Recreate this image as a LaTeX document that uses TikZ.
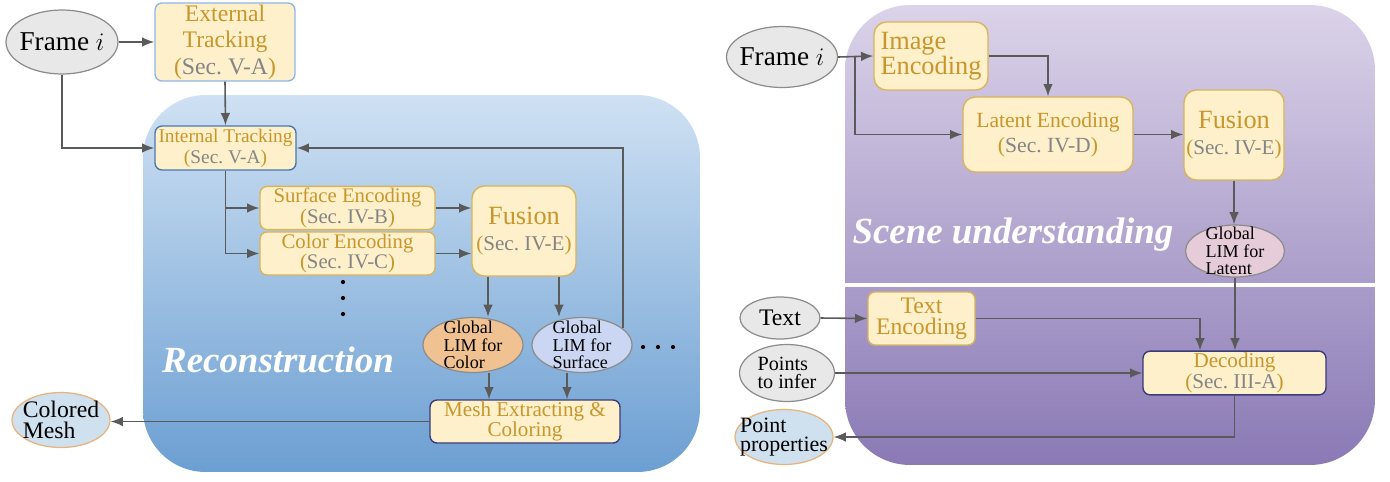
\documentclass[tikz,border=0pt]{standalone}
\usepackage{fontspec}
\setmainfont{Liberation Serif}
\usetikzlibrary{arrows.meta, positioning, backgrounds, shapes.geometric}

\definecolor{boxfill}{HTML}{FDF0CB}
\definecolor{goldline}{HTML}{D8B45E}
\definecolor{goldtext}{HTML}{C8962C}
\definecolor{secgray}{HTML}{858585}
\definecolor{ellfill}{HTML}{E8E8E8}
\definecolor{ellline}{HTML}{8C8C8C}
\definecolor{outfill}{HTML}{CFE0EF}
\definecolor{outline}{HTML}{E8B37A}
\definecolor{arrgray}{HTML}{5A5A5A}
\definecolor{extline}{HTML}{8EB6E8}
\definecolor{intline}{HTML}{4A78AC}
\definecolor{navyline}{HTML}{3C3C78}
\definecolor{limcolor}{HTML}{F0C292}
\definecolor{limsurf}{HTML}{CBD7F2}
\definecolor{limlatent}{HTML}{E6CCD9}
\definecolor{bluetop}{HTML}{CFE1F3}
\definecolor{bluebot}{HTML}{6C9FD2}
\definecolor{purptop}{HTML}{DBD3E9}
\definecolor{purpbot}{HTML}{8A79B5}

\newcommand{\secno}[1]{(\textcolor{secgray}{Sec.~#1})}
\newcommand{\fs}[2]{\fontsize{#1}{#2}\selectfont}

\begin{document}
\begin{tikzpicture}[
  x=0.02cm, y=-0.02cm,
  every node/.style={align=center},
  %% ─── styles ─────────────────────────────────────────────
  block/.style={
    draw=goldline, fill=boxfill, rounded corners=4pt, text=goldtext,
    line width=0.8pt, inner sep=1pt
  },
  bigblock/.style={block, rounded corners=7pt},
  inell/.style={ellipse, draw=ellline, fill=ellfill, line width=0.7pt, inner sep=0pt},
  outell/.style={ellipse, draw=outline, fill=outfill, line width=0.7pt, inner sep=0pt},
  lim/.style={ellipse, draw=ellline, line width=0.7pt, inner sep=0pt},
  lbl/.style={align=left, inner sep=0pt, text=black},
  panel/.style={rounded corners=1.25cm, inner sep=0pt},
  title/.style={text=white, font=\fs{21}{24}\bfseries\itshape},
  arr/.style={-{Latex[length=7pt, width=5.5pt]}, line width=0.9pt, draw=arrgray}
]
  \useasboundingbox (0,0) rectangle (1390,481);

  %% ─── 1. Reconstruction (left) ───────────────────────────
  \node[inell, minimum width=2.24cm, minimum height=1.28cm,
    label={[lbl, font=\fs{15.5}{17}]center:Frame $i$}] (frameL) at (62,42) {};
  \node[block, draw=extline, minimum width=2.8cm, minimum height=1.56cm,
    font=\fs{13.5}{15}] (extTrack) at (225,42) {External\\Tracking\\\secno{V-A}};
  \node[block, draw=intline, minimum width=2.82cm, minimum height=0.88cm,
    font=\fs{11}{12}] (intTrack) at (225.5,148) {Internal Tracking\\\secno{V-A}};

  \node[block, minimum width=3.5cm, minimum height=0.76cm,
    font=\fs{11.8}{10.2}] (surfEnc) at (347.5,208) {Surface Encoding\\\secno{IV-B}};
  \node[block, minimum width=3.5cm, minimum height=0.74cm,
    font=\fs{11.8}{10.2}] (colorEnc) at (347.5,253.5) {Color Encoding\\\secno{IV-C}};
  \node[bigblock, minimum width=2.08cm, minimum height=1.8cm,
    font=\fs{12}{15}] (fusionL) at (524,231) {{\fs{15}{15}Fusion}\\\secno{IV-E}};

  \node[lim, fill=limcolor, minimum width=2cm, minimum height=1.1cm,
    label={[lbl, font=\fs{10.3}{9.8}]center:Global\\LIM for\\Color}] (limColor) at (473,345) {};
  \node[lim, fill=limsurf, minimum width=2cm, minimum height=1.1cm,
    label={[lbl, font=\fs{10.3}{9.8}]center:Global\\LIM for\\Surface}] (limSurf) at (582,345) {};

  \node[block, draw=navyline, minimum width=3.8cm, minimum height=0.86cm,
    font=\fs{12}{11.5}] (mesh) at (525,421.5) {Mesh Extracting \&\\Coloring};
  \node[outell, minimum width=1.96cm, minimum height=1.1cm,
    label={[lbl, font=\fs{13.5}{12}]center:Colored\\Mesh}] (colMesh) at (61,420) {};

  \node[title] (recoTitle) at (278,360) {Reconstruction};

  \foreach \yy in {282,298,314} \fill (343,\yy) circle (1.2pt);
  \foreach \xx in {643,658,673} \fill (\xx,347) circle (1.2pt);

  % connections
  \draw[arr] (frameL.east) -- (extTrack.west);
  \draw[arr] (frameL.south) |- (intTrack.west);
  \draw[arr] (extTrack.south) -- (intTrack.north);
  \draw[arr] (limSurf.22) |- (intTrack.east);
  \draw[arr] (intTrack.south) |- (surfEnc.west);
  \draw[arr] (intTrack.south) |- (colorEnc.west);
  \draw[arr] (surfEnc.east) -- (surfEnc.east -| fusionL.west);
  \draw[arr] (colorEnc.east) -- (colorEnc.east -| fusionL.west);
  \draw[arr] ([xshift=-0.72cm]fusionL.south) -- ([xshift=-0.72cm]fusionL.south |- limColor.north);
  \draw[arr] ([xshift=0.7cm]fusionL.south) -- ([xshift=0.7cm]fusionL.south |- limSurf.north);
  \draw[arr] ([xshift=0.32cm]limColor.south) -- ([xshift=0.32cm]limColor.south |- mesh.north);
  \draw[arr] ([xshift=-0.3cm]limSurf.south) -- ([xshift=-0.3cm]limSurf.south |- mesh.north);
  \draw[arr] (mesh.west) -- (mesh.west -| colMesh.east);

  %% ─── 2. Scene understanding (right) ─────────────────────
  \node[inell, minimum width=2.22cm, minimum height=1.22cm,
    label={[lbl, font=\fs{15.5}{17}]center:Frame $i$}] (frameR) at (782,57) {};
  \node[bigblock, minimum width=2.28cm, minimum height=1.36cm, align=left,
    font=\fs{15}{14}] (imgEnc) at (931,56) {Image\\Encoding};
  \node[bigblock, minimum width=3.4cm, minimum height=1.5cm,
    font=\fs{12.3}{14}] (latEnc) at (1048,134.5) {Latent Encoding\\\secno{IV-D}};
  \node[bigblock, minimum width=2cm, minimum height=1.8cm,
    font=\fs{12}{15}] (fusionR) at (1234,135) {{\fs{15}{15}Fusion}\\\secno{IV-E}};
  \node[lim, fill=limlatent, minimum width=1.98cm, minimum height=1.04cm,
    label={[lbl, font=\fs{10.3}{9.8}]center:Global\\LIM for\\Latent}] (limLat) at (1235,251) {};

  \node[title] (sceneTitle) at (1013,235) {Scene understanding};

  \node[inell, minimum width=1.6cm, minimum height=0.84cm,
    label={[lbl, font=\fs{13.5}{12}]center:Text}] (textIn) at (780,318) {};
  \node[block, minimum width=2.14cm, minimum height=1.06cm,
    font=\fs{13.5}{12}] (textEnc) at (921.5,318.5) {Text\\Encoding};
  \node[inell, minimum width=1.9cm, minimum height=1.14cm,
    label={[lbl, font=\fs{11.5}{10.5}]center:Points\\to infer}] (pointsIn) at (787,373) {};
  \node[block, draw=navyline, minimum width=3.66cm, minimum height=0.84cm,
    font=\fs{12}{12}] (decode) at (1234.5,373) {Decoding\\\secno{III-A}};
  \node[outell, minimum width=1.96cm, minimum height=1.1cm,
    label={[lbl, font=\fs{12.5}{11}]center:Point\\properties}] (pointProp) at (784,437) {};

  % connections
  \draw[arr] (frameR.east) -- (imgEnc.west);
  \draw[arr] ([xshift=0.34cm]frameR.east) |- (latEnc.west);
  \draw[arr] (imgEnc.east) -| (latEnc.north);
  \draw[arr] (latEnc.east) -- (latEnc.east -| fusionR.west);
  \draw[arr] (fusionR.south) -- (fusionR.south |- limLat.north);
  \draw[arr] (textIn.east) -- (textEnc.west);
  \draw[arr] (textEnc.east) -| ([xshift=-0.69cm]decode.north);
  \draw[arr] (limLat.south) -- (limLat.south |- decode.north);
  \draw[arr] (pointsIn.east) -- (decode.west);
  \draw[arr] (decode.south) |- (pointProp.east);

  %% ─── 3. panels ──────────────────────────────────────────
  \begin{scope}[on background layer]
    \node[panel, top color=bluetop, bottom color=bluebot,
      minimum width=11.14cm, minimum height=7.54cm] (recoPanel) at (421.5,283.5) {};
    \node[panel, top color=purptop, bottom color=purpbot, rounded corners=1.3cm,
      minimum width=10.6cm, minimum height=9.2cm] (scenePanel) at (1110,235) {};
    \coordinate (sepY) at (0,285);
    \draw[white, line width=1.8pt] (scenePanel.west |- sepY) -- (scenePanel.east |- sepY);
  \end{scope}
\end{tikzpicture}
\end{document}
